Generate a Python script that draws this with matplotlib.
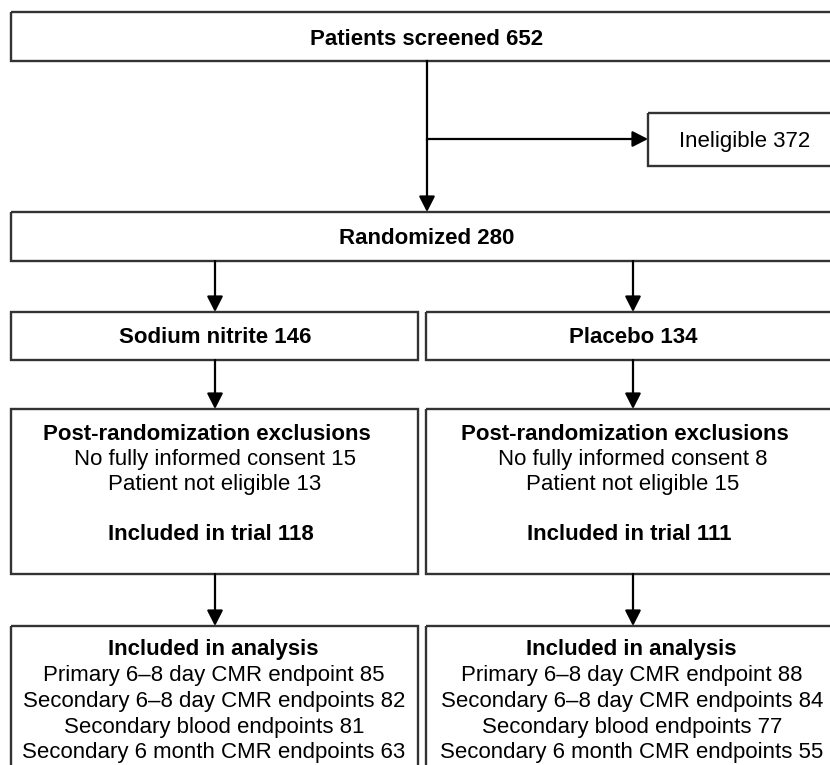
import matplotlib
matplotlib.use("Agg")
import matplotlib.pyplot as plt
from matplotlib.patches import Rectangle

# ---- data ----
screened = 652
ineligible = 372
randomized = 280
arms = ["Sodium nitrite", "Placebo"]
arm_n = [146, 134]
no_consent = [15, 8]
not_eligible = [13, 15]
included_trial = [118, 111]
analysis_labels = ["Primary 6\u20138 day CMR endpoint",
                   "Secondary 6\u20138 day CMR endpoints",
                   "Secondary blood endpoints",
                   "Secondary 6 month CMR endpoints"]
analysis_n = [[85, 82, 81, 63], [88, 84, 77, 55]]

# ---- layout (pixel space) ----
W, H = 830, 765
fig = plt.figure(figsize=(W / 100, H / 100), dpi=100)
ax = fig.add_axes([0, 0, 1, 1])
ax.set_xlim(0, W)
ax.set_ylim(H, 0)
ax.axis("off")

FONT = "Liberation Sans"
FS = 16
EC = "#333333"
LW = 1.7
DY = 2

def box(x0, y0, x1, y1):
    ax.add_patch(Rectangle((x0, y0), x1 - x0, y1 - y0, fill=False,
                           edgecolor=EC, linewidth=LW, clip_on=True))

def txt(x, y, s, bold=False):
    ax.text(x, y + DY, s, ha="center", va="center", fontsize=FS, family=FONT,
            fontweight="bold" if bold else "normal", color="black")

def arrow(x0, y0, x1, y1):
    ax.annotate("", xy=(x1, y1), xytext=(x0, y0),
                arrowprops=dict(arrowstyle="-|>,head_length=0.47,head_width=0.24",
                                mutation_scale=20, color="black", lw=1.6,
                                shrinkA=0, shrinkB=0))

RIGHT = 845
# top box
box(11, 12, RIGHT, 61)
txt(427, 37, f"Patients screened {screened}", bold=True)
# ineligible
box(648, 113, RIGHT, 166)
txt(745, 139, f"Ineligible {ineligible}")
ax.plot([427, 427], [61, 140], color="black", lw=1.6)
arrow(427, 139, 648, 139)
arrow(427, 139, 427, 212)
# randomized
box(11, 212, RIGHT, 261)
txt(427, 236, f"Randomized {randomized}", bold=True)

cols = [(11, 418, 215), (426, RIGHT, 633)]
for i, (x0, x1, xc) in enumerate(cols):
    arrow(xc, 261, xc, 312)
    box(x0, 312, x1, 360)
    txt(xc, 335, f"{arms[i]} {arm_n[i]}", bold=True)
    arrow(xc, 360, xc, 409)
    box(x0, 409, x1, 574)
    txt(xc - 8, 432, "Post-randomization exclusions", bold=True)
    txt(xc, 457, f"No fully informed consent {no_consent[i]}")
    txt(xc, 482, f"Patient not eligible {not_eligible[i]}")
    txt(xc - 4, 533, f"Included in trial {included_trial[i]}", bold=True)
    arrow(xc, 574, xc, 626)
    box(x0, 626, x1, 790)
    txt(xc - 2, 648, "Included in analysis", bold=True)
    for j, lab in enumerate(analysis_labels):
        txt(xc - 1, 674 + 25.5 * j, f"{lab} {analysis_n[i][j]}")

fig.savefig("out.png", dpi=100)
